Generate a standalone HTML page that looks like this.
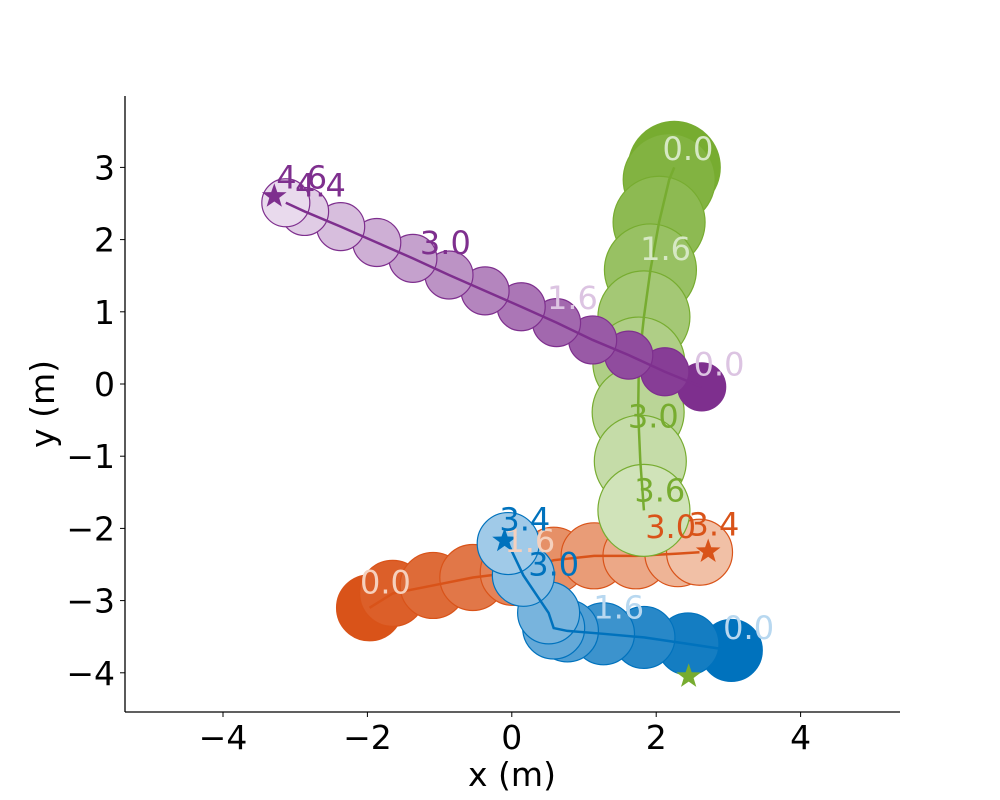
<!DOCTYPE html>
<html><head><meta charset="utf-8"><style>
body{margin:0;background:#fff;}
svg{display:block;font-family:"DejaVu Sans","Liberation Sans",sans-serif;}
</style></head><body>
<svg id="chart" width="1000" height="800" viewBox="0 0 1000 800" xmlns="http://www.w3.org/2000/svg">
<g id="plot"></g>
<g id="labels"></g>
<g id="axes"></g>
</svg>
<script>
const xTicks=[-4,-2,0,2,4];
const yTicks=[3,2,1,0,-1,-2,-3,-4];
// orange
const orangeX=[-1.97,-1.65,-1.09,-0.54,0.02,0.58,1.14,1.72,2.30,2.60];
const orangeY=[-3.10,-2.90,-2.79,-2.68,-2.61,-2.44,-2.38,-2.38,-2.35,-2.33];
const orangeStar=[2.72,-2.32];
const orangeLabels=["0.0","1.6","3.0","3.4"];
const orangeLabelX=[-1.75,0.25,2.2,2.8];
const orangeLabelY=[-2.9,-2.33,-2.13,-2.1];
// blue
const blueX=[3.04,2.44,1.83,1.27,0.77,0.58,0.51,0.16,-0.05];
const blueY=[-3.69,-3.60,-3.51,-3.46,-3.42,-3.38,-3.17,-2.65,-2.21];
const blueStar=[-0.10,-2.17];
const blueLabels=["0.0","1.6","3.0","3.4"];
const blueLabelX=[3.28,1.48,0.58,0.18];
const blueLabelY=[-3.53,-3.25,-2.65,-2.03];
// green
const greenX=[2.25,2.18,2.04,1.92,1.83,1.76,1.75,1.78,1.83];
const greenY=[3.00,2.83,2.24,1.58,0.93,0.29,-0.39,-1.07,-1.75];
const greenStar=[2.45,-4.05];
const greenLabels=["0.0","1.6","3.0","3.6"];
const greenLabelX=[2.44,2.13,1.96,2.05];
const greenLabelY=[3.1,1.72,-0.6,-1.63];
// purple
const purpleX=[2.63,2.12,1.62,1.12,0.62,0.13,-0.37,-0.87,-1.37,-1.87,-2.37,-2.87,-3.13];
const purpleY=[-0.04,0.17,0.40,0.61,0.85,1.07,1.29,1.51,1.74,1.96,2.18,2.39,2.51];
const purpleStar=[-3.29,2.60];
const purpleLabels=["0.0","1.6","3.0","4.4","4.6"];
const purpleLabelX=[2.87,0.84,-0.92,-2.65,-2.91];
const purpleLabelY=[0.12,1.04,1.8,2.6,2.71];

const X0=511.8,Y0=384,S=72.2;
const xs=v=>X0+S*v, ys=v=>Y0-S*v;
const NS="http://www.w3.org/2000/svg";
const plot=document.getElementById('plot'), axes=document.getElementById('axes'), labG=document.getElementById('labels');
function mk(tag,attrs,parent){const e=document.createElementNS(NS,tag);for(const k in attrs)e.setAttribute(k,attrs[k]);parent.appendChild(e);return e;}
function mix(a,b,t){return 'rgb('+a.map((c,i)=>Math.round(c+(b[i]-c)*t)).join(',')+')';}
function starPts(cx,cy,r){let p=[];for(let i=0;i<10;i++){const a=-Math.PI/2+i*Math.PI/5;const rr=i%2?r*0.4:r;p.push((cx+rr*Math.cos(a)).toFixed(1)+','+(cy+rr*Math.sin(a)).toFixed(1));}return p.join(' ');}
function series(name,xsA,ysA,r,dark,light,edge,star,starCol,labs,lx,ly,lightLab,darkLab){
  const g=mk('g',{},plot);
  
  
  const n=xsA.length;
  for(let i=0;i<n;i++){
    const c=mk('circle',{cx:xs(xsA[i]),cy:ys(ysA[i]),r:r,fill:mix(dark,light,n>1?i/(n-1):0),stroke:edge,'stroke-width':1.2},g);
    
    
  }
  const pl=mk('polyline',{points:xsA.map((v,i)=>xs(v)+','+ys(ysA[i])).join(' '),fill:'none',stroke:edge,'stroke-width':2.5},g);
  
  
  const st=mk('polygon',{points:starPts(xs(star[0]),ys(star[1]),13),fill:starCol},g);
  
  
  labs.forEach((t,i)=>{
    const tx=mk('text',{x:xs(lx[i]),y:ys(ly[i]),'font-size':32,'text-anchor':'middle',fill:i<2?lightLab:darkLab},labG);
    tx.textContent=t;
    
    
  });
}
series('orange',orangeX,orangeY,33,[217,83,25],[241,192,166],'#d95319',orangeStar,'#d95319',orangeLabels,orangeLabelX,orangeLabelY,'#f5d0bd','#d95319');
series('blue',blueX,blueY,31,[0,114,189],[160,202,232],'#0072bd',blueStar,'#0072bd',blueLabels,blueLabelX,blueLabelY,'#b8d8f0','#0072bd');
series('green',greenX,greenY,46,[119,172,48],[208,227,185],'#77ac30',greenStar,'#77ac30',greenLabels,greenLabelX,greenLabelY,'#d6e8c4','#77ac30');
series('purple',purpleX,purpleY,24,[126,47,142],[233,218,237],'#7e2f8e',purpleStar,'#7e2f8e',purpleLabels,purpleLabelX,purpleLabelY,'#dcc4e2','#7e2f8e');

// axes
const ls=mk('line',{x1:125,y1:96,x2:125,y2:712,stroke:'#000','stroke-width':1.3},axes);

const bs=mk('line',{x1:125,y1:712,x2:900,y2:712,stroke:'#000','stroke-width':1.3},axes);

xTicks.forEach(v=>{
  const t=mk('line',{x1:xs(v),y1:712,x2:xs(v),y2:717,stroke:'#000','stroke-width':1},axes);
  
  const l=mk('text',{x:xs(v),y:749,'font-size':33,'text-anchor':'middle'},axes);
  l.textContent=v<0?'\u2212'+(-v):v;
  
});
yTicks.forEach(v=>{
  const t=mk('line',{x1:120,y1:ys(v),x2:125,y2:ys(v),stroke:'#000','stroke-width':1},axes);
  
  const l=mk('text',{x:115,y:ys(v)+12,'font-size':33,'text-anchor':'end'},axes);
  l.textContent=v<0?'\u2212'+(-v):v;
  
});
const xl=mk('text',{x:512,y:786,'font-size':33,'text-anchor':'middle'},axes);
xl.textContent='x (m)';
const yl=mk('text',{x:0,y:0,'font-size':33,'text-anchor':'middle',transform:'translate(54,404) rotate(-90)'},axes);
yl.textContent='y (m)';
</script>
</body></html>
